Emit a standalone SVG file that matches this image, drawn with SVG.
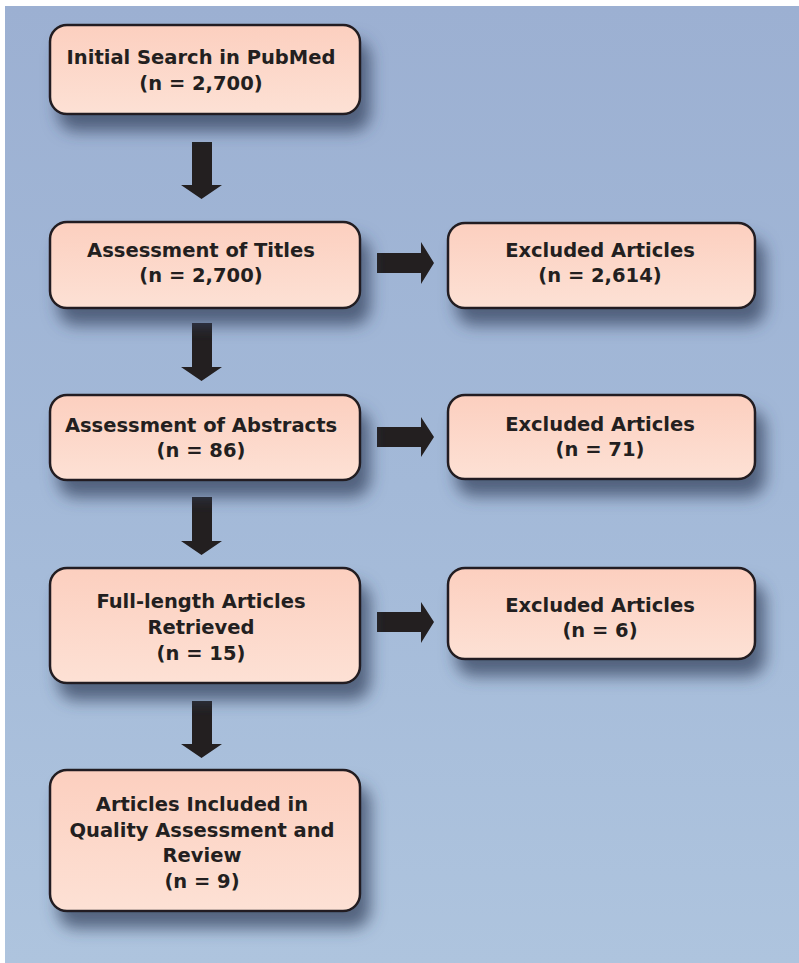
<svg xmlns="http://www.w3.org/2000/svg" width="799" height="963" viewBox="0 0 799 963">
  <defs>
    <linearGradient id="bg" x1="0" y1="0" x2="0" y2="1">
      <stop offset="0" stop-color="#9cb0d2"/>
      <stop offset="0.5" stop-color="#a3b9d8"/>
      <stop offset="1" stop-color="#aec4de"/>
    </linearGradient>
    <linearGradient id="boxfill" x1="0" y1="0" x2="0" y2="1">
      <stop offset="0" stop-color="#fccfbf"/>
      <stop offset="1" stop-color="#fde1d5"/>
    </linearGradient>
    <filter id="shadow" x="-20%" y="-30%" width="150%" height="180%">
      <feDropShadow dx="9" dy="16" stdDeviation="8" flood-color="#34445f" flood-opacity="0.75"/>
    </filter>
  </defs>
  <style>
    .box { fill: url(#boxfill); stroke: #231f20; stroke-width: 2.5; filter: url(#shadow); }
    .lbl { font-family: "DejaVu Sans", "Liberation Sans", sans-serif; font-weight: bold; font-size: 19.5px; fill: #231f20; text-anchor: middle; }
    .arrow { fill: #231f20; }
  </style>
  <rect x="0" y="0" width="799" height="963" fill="#ffffff"/>
  <rect x="5" y="6" width="794" height="957" fill="url(#bg)"/>

  <g id="connectors">
    <path class="arrow" d="M192,142 H212 V185 H222 L201.5,199 L181,185 H192 Z"/>
    <path class="arrow" d="M192,323 H212 V367 H222 L201.5,381 L181,367 H192 Z"/>
    <path class="arrow" d="M192,497 H212 V541 H222 L201.5,555 L181,541 H192 Z"/>
    <path class="arrow" d="M192,701 H212 V744 H222 L201.5,758 L181,744 H192 Z"/>
    <path class="arrow" d="M377,253 H421 V242 L434,263 L421,284 V273 H377 Z"/>
    <path class="arrow" d="M377,427 H421 V417 L434,437 L421,457 V447 H377 Z"/>
    <path class="arrow" d="M377,612 H421 V602 L434,622 L421,643 V632 H377 Z"/>
  </g>

  <g id="initial-search">
    <rect class="box" x="50" y="25" width="310" height="89" rx="17"/>
    <text class="lbl" x="201" y="64">Initial Search in PubMed</text>
    <text class="lbl" x="201" y="90">(n = 2,700)</text>
  </g>
  <g id="assessment-titles">
    <rect class="box" x="50" y="222" width="310" height="86" rx="17"/>
    <text class="lbl" x="201" y="257">Assessment of Titles</text>
    <text class="lbl" x="201" y="282">(n = 2,700)</text>
  </g>
  <g id="excluded-titles">
    <rect class="box" x="448" y="223" width="307" height="85" rx="17"/>
    <text class="lbl" x="600" y="257">Excluded Articles</text>
    <text class="lbl" x="600" y="282">(n = 2,614)</text>
  </g>
  <g id="assessment-abstracts">
    <rect class="box" x="50" y="395" width="310" height="85" rx="17"/>
    <text class="lbl" x="201" y="432">Assessment of Abstracts</text>
    <text class="lbl" x="201" y="457">(n = 86)</text>
  </g>
  <g id="excluded-abstracts">
    <rect class="box" x="448" y="395" width="307" height="84" rx="17"/>
    <text class="lbl" x="600" y="431">Excluded Articles</text>
    <text class="lbl" x="600" y="456">(n = 71)</text>
  </g>
  <g id="full-length">
    <rect class="box" x="50" y="568" width="310" height="115" rx="17"/>
    <text class="lbl" x="201" y="608">Full-length Articles</text>
    <text class="lbl" x="201" y="634">Retrieved</text>
    <text class="lbl" x="201" y="660">(n = 15)</text>
  </g>
  <g id="excluded-full">
    <rect class="box" x="448" y="568" width="307" height="91" rx="17"/>
    <text class="lbl" x="600" y="612">Excluded Articles</text>
    <text class="lbl" x="600" y="637">(n = 6)</text>
  </g>
  <g id="included">
    <rect class="box" x="50" y="770" width="310" height="141" rx="17"/>
    <text class="lbl" x="202" y="811">Articles Included in</text>
    <text class="lbl" x="202" y="837">Quality Assessment and</text>
    <text class="lbl" x="202" y="862">Review</text>
    <text class="lbl" x="202" y="888">(n = 9)</text>
  </g>
</svg>
